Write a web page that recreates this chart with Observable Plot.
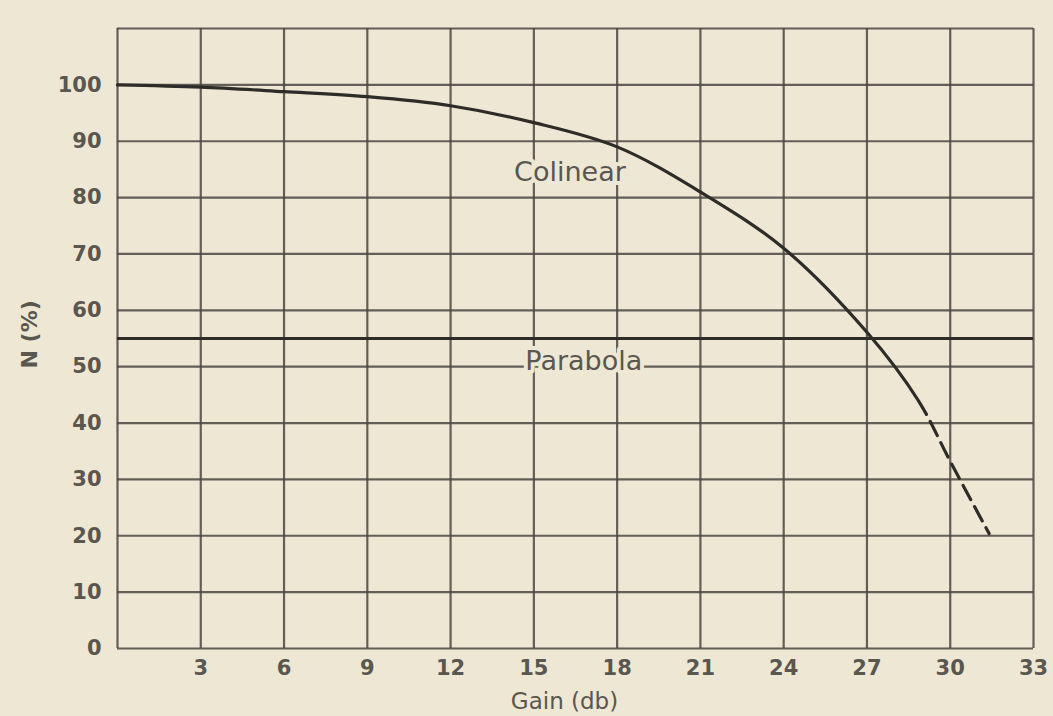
<!DOCTYPE html>
<html>
<head>
<meta charset="utf-8">
<script src="https://cdn.jsdelivr.net/npm/d3@7"></script>
<script src="https://cdn.jsdelivr.net/npm/@observablehq/plot@0.6"></script>
<style>
  html, body { margin: 0; padding: 0; background: #eee7d4; }
  #chart { width: 1053px; height: 716px; }
  svg { background: transparent !important; }
</style>
</head>
<body>
<div id="chart"></div>
<script>
// Colinear efficiency curve (solid part)
const gainSolid = [0, 3, 6, 9, 12, 15, 18, 21, 24, 27, 28.85];
const colinearSolid = [100, 99.6, 98.8, 97.9, 96.3, 93.3, 89, 81, 71, 56.1, 44];
// Colinear extrapolated (dashed) part, continuing from the last solid point
const gainDashed = [30, 31.4];
const colinearDashed = [33.2, 20.4];
// Parabola efficiency (constant)
const parabolaLevel = 55;
// Ticks and grid
const xTicks = [3, 6, 9, 12, 15, 18, 21, 24, 27, 30, 33];
const yTicks = [0, 10, 20, 30, 40, 50, 60, 70, 80, 90, 100];
const xGrid = [0, 3, 6, 9, 12, 15, 18, 21, 24, 27, 30, 33];
const yGrid = [0, 10, 20, 30, 40, 50, 60, 70, 80, 90, 100, 110];
const labelText = ["Colinear", "Parabola"];
const labelGain = [16.3, 16.8];
const labelN = [84.5, 51.0];

const bg = "#eee7d4";
const ink = "#4a4742";
const textInk = "#5a5650";
const font = "DejaVu Sans";

const curve = gainSolid.concat(gainDashed).map((g, i) => ({
  g, n: colinearSolid.concat(colinearDashed)[i]
}));
const labels = labelText.map((t, i) => ({text: t, x: labelGain[i], y: labelN[i]}));

const plot = Plot.plot({
  width: 1053,
  height: 716,
  marginLeft: 117,
  marginRight: 20,
  marginTop: 28,
  marginBottom: 68,
  style: {background: "transparent", fontFamily: font},
  x: {domain: [0, 33]},
  y: {domain: [0, 110]},
  marks: [
    Plot.ruleX(xGrid, {stroke: ink, strokeWidth: 2.2, strokeOpacity: 0.85}),
    Plot.ruleY(yGrid, {stroke: ink, strokeWidth: 2.2, strokeOpacity: 0.85}),
    Plot.ruleY([parabolaLevel], {stroke: "#2e2c29", strokeWidth: 3}),
    Plot.text(labels, {
      x: "x", y: "y", text: "text",
      fontSize: 27, fill: textInk, stroke: bg, strokeWidth: 8,
      fontFamily: font
    }),
    Plot.line(curve, {
      x: "g", y: "n", curve: "catmull-rom", stroke: "#2e2c29", strokeWidth: 3.2,
      className: "colinear-curve"
    }),
    Plot.axisX(xTicks, {
      tickSize: 0, tickPadding: 12, fontSize: 21, fontWeight: "bold",
      fill: textInk, label: null, fontFamily: font
    }),
    Plot.axisY(yTicks, {
      tickSize: 0, tickPadding: 16, fontSize: 21, fontWeight: "bold",
      fill: textInk, label: null, fontFamily: font
    }),
    Plot.text(["Gain (db)"], {
      frameAnchor: "bottom", dy: 60, dx: -11, fontSize: 23, fill: textInk,
      fontFamily: font
    }),
    Plot.text(["N (%)"], {
      frameAnchor: "left", dx: -88, dy: 30, rotate: -90, fontSize: 22, fill: textInk,
      fontWeight: "bold", fontFamily: font
    })
  ]
});

document.getElementById("chart").appendChild(plot);

// Make the extrapolated part (beyond the last solid point) dashed.
const xs = plot.scale("x");
const xCut = xs.apply(gainSolid[gainSolid.length - 1]);
const path = plot.querySelector(".colinear-curve path");
if (path) {
  const total = path.getTotalLength();
  let lo = 0, hi = total;
  for (let k = 0; k < 40; k++) {
    const mid = (lo + hi) / 2;
    if (path.getPointAtLength(mid).x < xCut) lo = mid; else hi = mid;
  }
  const pattern = [lo, 0];
  for (let k = 0; k < 20; k++) pattern.push(16, 8);
  path.setAttribute("stroke-dasharray", pattern.join(" "));
}
</script>
</body>
</html>
